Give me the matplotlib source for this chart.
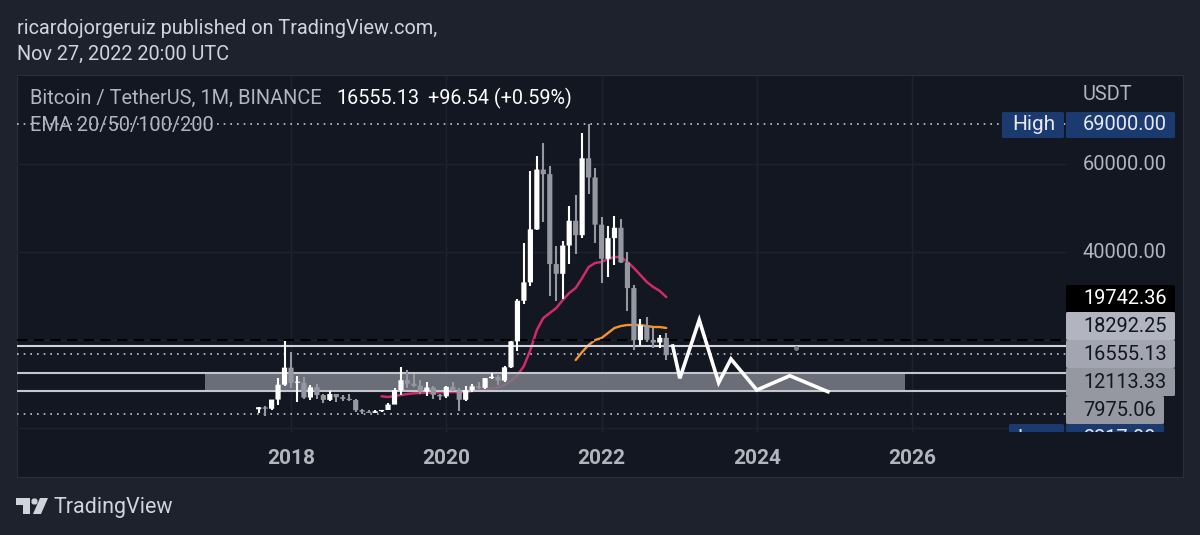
import matplotlib
matplotlib.use("Agg")
import matplotlib.pyplot as plt
from matplotlib.patches import FancyBboxPatch, Rectangle, Polygon

plt.rcParams['font.family'] = ['Roboto', 'DejaVu Sans']

# ---- data (monthly candles, month 0 = Jan 2018) ----
opens = [4261,4689,4378,6463,9837,13715,10285,10325,6922,9246,7485,6391,7727,7000,6626,6369,4041,3701,3434,3814,
         4102,5320,8555,10854,10085,9600,8293,9199,7546,7195,9351,8523,6412,8620,9448,9138,11335,11649,10776,13791,
         19698,28923,33092,45134,58739,57697,37253,35045,41461,47100,43820,61299,56950,46216,38466,43160,45510,37630,31801,19942,
         23296,20048,19422,20490]
highs = [4745,4939,6470,11300,19798,17176,11786,11700,9759,10020,7786,8491,7750,7410,7680,6586,4394,4069,4198,4140,
         5600,9074,13970,13147,12325,10905,10370,9531,7750,9578,10500,9188,9460,10067,10380,11444,12486,12050,14100,19863,
         29300,41950,58352,61844,64854,59500,41330,42448,50500,52920,67000,69000,59053,47990,45821,48189,47444,40023,32387,24668,
         25202,22799,21085,21480]
lows = [3400,2817,4110,5325,9600,9035,6000,6600,6430,6600,5750,6070,5880,6100,6200,3652,3156,3349,3373,3670,
        4067,5350,7444,9060,9320,7710,7300,6515,6435,6871,8445,3782,6150,8117,8833,8893,11115,9825,10375,13621,
        17572,28130,32296,44950,46930,30000,28805,29278,37331,39600,43283,53256,41967,32917,34322,37155,37578,26700,17622,18781,
        19520,18125,18190,15476]
closes = [4724,4378,6463,9838,13716,10285,10326,6923,9246,7485,6391,7727,7000,6626,6371,4041,3702,3434,3813,4103,
          5320,8555,10854,10085,9600,8293,9199,7546,7195,9352,8523,6410,8620,9448,9138,11335,11649,10776,13791,19700,
          28923,33092,45135,58740,57694,37253,35045,41461,47100,43824,61299,56950,46216,38466,43160,45510,37630,31801,19942,23293,
          20050,19422,20490,16555]
months = list(range(-5, -5 + len(opens)))

ema20_months = list(range(14, 59))
ema20 = [7200,7040,7270,7500,7730,7880,7950,8020,8020,8110,8110,8180,8180,8180,8400,8560,8790,9020,9250,9770,
         10680,12040,14090,17730,22270,25000,26130,27270,29090,30680,31820,34090,36590,37500,37730,38410,38860,38860,
         37730,36360,34770,33180,32040,31140,29770]
ema50_months = list(range(44, 59))
ema50 = [15450,17270,18860,20000,20450,21590,22730,23180,23410,23410,23410,23180,22950,22950,22730]

forecast_months = [59.0,60.1,63.1,66.1,68.0,72.0,77.1,83.0]
forecast_prices = [18640,11290,24540,10290,15680,8630,11880,8250]

high_level = 69000
dashed_level = 19950
solid_level = 18550
last_level = 16850
zone_top = 12550
zone_bottom = 8300
low_level = 3217
zone_start, zone_end = -13.3, 94.9

year_ticks = [0, 24, 48, 72, 96]
year_labels = ['2018', '2020', '2022', '2024', '2026']
price_ticks = [0, 20000, 40000, 60000]
price_labels = ['', '', '40000.00', '60000.00']

# ---- layout ----
W, H = 1200, 535
OUTER, PANE = '#1e222d', '#131722'
GRID = '#1e222c'
UP, DOWN = '#ffffff', '#9598a1'
TXT = '#b2b5be'

fig = plt.figure(figsize=(W/100, H/100), dpi=100, facecolor=OUTER)

def fx(x): return x / W
def fy(y): return 1 - y / H

def ftext(x, y, s, **kw):
    kw.setdefault('va', 'center')
    return fig.text(fx(x), fy(y), s, **kw)

fig.add_artist(Rectangle((fx(17), fy(477)), fx(1183-17), fy(75)-fy(477),
                         transform=fig.transFigure, fc=PANE, ec='#2a2e39', lw=0.8, zorder=-5))

ax = fig.add_axes([fx(17), fy(432), fx(1067-17), fy(76)-fy(432)])
ax.patch.set_alpha(0)
ax.set_xlim(-42.35, 119.94)
ax.set_ylim(-909, 80000)
for s in ax.spines.values():
    s.set_visible(False)

ax.set_xticks(year_ticks)
ax.set_xticklabels(year_labels, fontsize=15, fontweight='bold', color=TXT)
ax.tick_params(axis='x', length=0, pad=12.5)
ax.yaxis.tick_right()
ax.set_yticks(price_ticks)
ax.set_yticklabels(price_labels, fontsize=14.4, color=TXT, va='center')
ax.tick_params(axis='y', length=0, pad=11.5)
ax.grid(True, color=GRID, lw=1)
ax.set_axisbelow(True)

# EMA lines sit under the translucent zone
ax.plot(ema20_months, ema20, color='#d02a68', lw=1.8, zorder=2, solid_capstyle='round')
ax.plot(ema50_months, ema50, color='#f5922f', lw=1.7, zorder=2, solid_capstyle='round')

ax.add_patch(Rectangle((zone_start, zone_bottom), zone_end - zone_start, zone_top - zone_bottom,
                       fc='#787b86', alpha=0.88, ec='none', zorder=3))

ax.axhline(zone_top, color='#c4c6ce', lw=1.5, zorder=3.5)
ax.axhline(zone_bottom, color='#c4c6ce', lw=1.5, zorder=3.5)
ax.axhline(solid_level, color='#d1d4dc', lw=1.5, zorder=3.5)
ax.axhline(dashed_level, color='#000000', lw=1.5, ls=(0, (5, 3)), zorder=3.5)
for lvl in (high_level, last_level, low_level):
    ax.axhline(lvl, color='#c4c6ce', lw=1.2, ls=(0, (1, 3)), zorder=3.5)

for m, o, h, l, c in zip(months, opens, highs, lows, closes):
    col = UP if c >= o else DOWN
    ax.vlines(m, l, h, color=col, lw=1.5, zorder=4)
    bars = ax.bar(m, max(abs(c - o), 250), bottom=min(o, c), width=0.8, color=col, zorder=5, linewidth=0)
    for b in bars:
        b.set_snap(False)

ax.plot(forecast_months, forecast_prices, color='#ffffff', lw=2.6, zorder=6, solid_joinstyle='miter')
ax.plot([78.0], [solid_level - 300], marker='o', ms=2.5, color='#787b86', zorder=6)

# ---- header ----
FS = 14.35
LG = 14.45
ftext(17, 28, 'ricardojorgeruiz published on TradingView.com,', fontsize=FS, color='#d1d4dc')
ftext(17, 54, 'Nov 27, 2022 20:00 UTC', fontsize=FS, color='#d1d4dc')
ftext(30, 98, 'Bitcoin / TetherUS, 1M, BINANCE', fontsize=LG, color=TXT)
ftext(336, 98, '16555.13', fontsize=14.2, color='#ffffff')
ftext(428, 98, '+96.54 (+0.59%)', fontsize=14.2, color='#ffffff')
ftext(30, 125, 'EMA 20/50/100/200', fontsize=LG, color=TXT)
ftext(1083, 94, 'USDT', fontsize=14.4, color=TXT)

# ---- price labels ----
def box(x0, y0, x1, y1, color, clip=None):
    p = FancyBboxPatch((fx(x0), fy(y1)), fx(x1 - x0), fy(y0) - fy(y1),
                       boxstyle='round,pad=0,rounding_size=0.002', transform=fig.transFigure,
                       fc=color, ec='none', zorder=1)
    fig.add_artist(p)
    if clip is not None:
        p.set_clip_path(clip)
    return p

BLUE = '#1b3a70'
LS = 14.4
box(1002, 112, 1064, 138, BLUE)
box(1066, 112, 1175, 138, BLUE)
ftext(1034, 124, 'High', ha='center', fontsize=15, color='#e6e8ee', zorder=2)
ftext(1083, 125, '69000.00', fontsize=LS, color='#e6e8ee', zorder=2)

box(1066, 285, 1175, 312, '#000000')
ftext(1083, 299, '19742.36', fontsize=LS, color='#ffffff', zorder=2)
box(1066, 312, 1175, 340, '#b2b5c0')
ftext(1083, 327, '18292.25', fontsize=LS, color='#131722', zorder=2)
box(1066, 340, 1175, 368, '#a3a6b0')
ftext(1083, 355, '16555.13', fontsize=LS, color='#131722', zorder=2)
box(1066, 368, 1175, 396, '#9598a1')
ftext(1083, 382, '12113.33', fontsize=LS, color='#131722', zorder=2)
box(1066, 396, 1164, 424, '#9598a1')
ftext(1083, 410, '7975.06', fontsize=LS, color='#131722', zorder=2)

clip = Rectangle((fx(1000), fy(432)), fx(180), fy(420) - fy(432), transform=fig.transFigure)
box(1009, 424, 1064, 450, BLUE, clip)
box(1066, 424, 1164, 450, BLUE, clip)
t1 = ftext(1083, 438, '3217.00', fontsize=LS, color='#e6e8ee', zorder=2)
t2 = ftext(1036, 438, 'Low', ha='center', fontsize=LS, color='#e6e8ee', zorder=2)
t1.set_clip_path(clip); t2.set_clip_path(clip)
t1.set_clip_on(True); t2.set_clip_on(True)

# ---- footer logo ----
LOGO = '#d1d4dc'
def px(pts): return [(fx(x), fy(y)) for x, y in pts]
fig.add_artist(Polygon(px([(16, 498), (30, 498), (30, 514), (23, 514), (23, 505), (16, 505)]),
                       transform=fig.transFigure, fc=LOGO, ec='none'))
fig.add_artist(Polygon(px([(40, 498), (48, 498), (41, 514), (33, 514)]),
                       transform=fig.transFigure, fc=LOGO, ec='none'))
fig.add_artist(Polygon(px([(31.5, 500), (33, 498.5), (36, 498.5), (37.5, 500), (37.5, 503), (36, 504.5), (33, 504.5), (31.5, 503)]),
                       transform=fig.transFigure, fc=LOGO, ec='none'))
ftext(54, 507, 'TradingView', fontsize=15.5, color=LOGO)

fig.savefig('out.png', dpi=100, facecolor=fig.get_facecolor())
